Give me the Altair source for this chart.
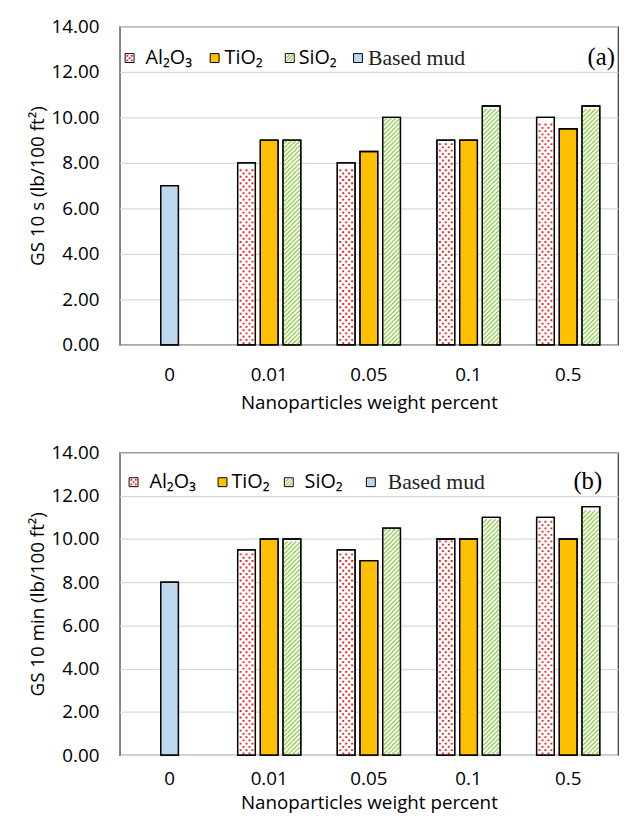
import altair as alt
import pandas as pd

# ---------------- data ----------------
categories = ["0", "0.01", "0.05", "0.1", "0.5"]
series_names = ["Al2O3", "TiO2", "SiO2"]
legend_labels = ["Al₂O₃", "TiO₂", "SiO₂", "Based mud"]
y_ticks = [0, 2, 4, 6, 8, 10, 12, 14]

# panel (a) GS 10 s
a_al2o3 = [8, 8, 9, 10]
a_tio2 = [9, 8.5, 9, 9.5]
a_sio2 = [9, 10, 10.5, 10.5]
a_base = 7

# panel (b) GS 10 min
b_al2o3 = [9.5, 9.5, 10, 11]
b_tio2 = [10, 9, 10, 10]
b_sio2 = [10, 10.5, 11, 11.5]
b_base = 8

# ---------------- styles ----------------
SANS = "'Open Sans', 'Noto Sans', sans-serif"
SERIF = "'Liberation Serif', serif"
COL_TI = "#FFC000"
COL_BASE = "#BDD7EE"
COL_DOT = "#FF1A1A"
COL_STRIPE = "#92D050"
PLOT_W = 504

DOT_TILE_PX = 6.6
STRIPE_TILE_PX = 4.5


def sq(cx, cy, h):
    return f"M{cx-h:.3f},{cy-h:.3f}h{2*h:.3f}v{2*h:.3f}h{-2*h:.3f}Z"


# tile of dots for an 18px wide bar (1 unit = 9 px, size = 324)
U = 9.0
_r = DOT_TILE_PX / 4
DOT_PATH = "".join(
    [sq(x / U, -_r / U, 0.95 / U) for x in (-6, 0, 6)]
    + [sq(x / U, _r / U, 0.95 / U) for x in (-3, 3)]
)
_h = STRIPE_TILE_PX / 2
STRIPE_PATH = "".join(
    f"M{x0/U:.3f},{_h/U:.3f}L{(x0+STRIPE_TILE_PX)/U:.3f},{-_h/U:.3f}"
    for x0 in (-9, -4.5, 0, 4.5)
)
# legend symbol patterns (9px symbol, 1 unit = 4.5 px, size = 81)
LEG_DOT_PATH = "".join(sq(x, y, 0.2) for x, y in [(-0.5, -0.5), (0.5, -0.5), (0, 0), (-0.5, 0.5), (0.5, 0.5)])
LEG_STRIPE_PATH = "M-0.8,0.8L0.8,-0.8M-0.8,0L0,-0.8M0,0.8L0.8,0"


def make_panel(al, ti, si, base_val, ytitle, tag, height, leg, xpad):
    sx, tx, ly, tagx = leg
    x_label_pad, x_title_pad = xpad
    rows = []
    for c, a, t, s in zip(categories[1:], al, ti, si):
        rows.append(dict(cat=c, series="Al2O3", slot="Al2O3", val=a))
        rows.append(dict(cat=c, series="TiO2", slot="TiO2", val=t))
        rows.append(dict(cat=c, series="SiO2", slot="SiO2", val=s))
    rows.append(dict(cat=categories[0], series="Based mud", slot="TiO2", val=base_val))
    df = pd.DataFrame(rows)

    ppu = height / 14.0
    dot_rows, stripe_rows = [], []
    for r in rows:
        if r["series"] == "Al2O3":
            step = DOT_TILE_PX / ppu
            n = int(r["val"] / step)
            for k in range(n):
                dot_rows.append(dict(cat=r["cat"], slot=r["slot"], val=(k + 0.5) * step))
        elif r["series"] == "SiO2":
            step = STRIPE_TILE_PX / ppu
            n = int(r["val"] / step)
            for k in range(n):
                stripe_rows.append(dict(cat=r["cat"], slot=r["slot"], val=(k + 0.5) * step))
    dots_df = pd.DataFrame(dot_rows)
    stripes_df = pd.DataFrame(stripe_rows)

    x_enc = alt.X(
        "cat:N",
        sort=categories,
        scale=alt.Scale(domain=categories, paddingInner=0.366, paddingOuter=0.183),
        axis=alt.Axis(
            title="Nanoparticles weight percent",
            labelAngle=0,
            ticks=False,
            tickSize=0,
            domain=False,
            labelPadding=x_label_pad,
            titlePadding=x_title_pad,
        ),
    )
    xo_enc = alt.XOffset(
        "slot:N",
        scale=alt.Scale(domain=series_names, paddingInner=0.217, paddingOuter=0),
    )
    y_enc = alt.Y(
        "val:Q",
        scale=alt.Scale(domain=[0, 14], nice=False),
        axis=alt.Axis(
            values=y_ticks,
            format=".2f",
            title=ytitle,
            grid=True,
            gridColor="#D9D9D9",
            gridWidth=1.2,
            ticks=False,
            tickSize=0,
            domain=False,
            labelPadding=21,
            titlePadding=4,
        ),
    )

    bars = alt.Chart(df).mark_bar(stroke="black", strokeWidth=1.3).encode(
        x=x_enc,
        xOffset=xo_enc,
        y=y_enc,
        color=alt.Color(
            "series:N",
            scale=alt.Scale(
                domain=series_names + ["Based mud"],
                range=["white", COL_TI, "white", COL_BASE],
            ),
            legend=None,
        ),
    )
    dots = alt.Chart(dots_df).mark_point(
        shape=DOT_PATH, size=324, filled=True, fill=COL_DOT, strokeWidth=0, opacity=1
    ).encode(x=x_enc, xOffset=xo_enc, y=y_enc)
    stripes = alt.Chart(stripes_df).mark_point(
        shape=STRIPE_PATH, size=324, filled=False, stroke=COL_STRIPE, strokeWidth=1.4, opacity=1
    ).encode(x=x_enc, xOffset=xo_enc, y=y_enc)
    outline = alt.Chart(df).mark_bar(fillOpacity=0, stroke="black", strokeWidth=1.3).encode(
        x=x_enc, xOffset=xo_enc, y=y_enc
    )

    one = alt.Data(values=[{"k": 1}])
    layers = [bars, dots, stripes, outline]
    sym_fill = ["white", COL_TI, "white", COL_BASE]
    for i, lab in enumerate(legend_labels):
        layers.append(
            alt.Chart(one).mark_point(
                shape="square", size=81, filled=True, fill=sym_fill[i],
                stroke="black", strokeWidth=1, opacity=1,
            ).encode(x=alt.value(sx[i]), y=alt.value(ly))
        )
        if i == 0:
            layers.append(
                alt.Chart(one).mark_point(
                    shape=LEG_DOT_PATH, size=81, filled=True, fill=COL_DOT, strokeWidth=0, opacity=1
                ).encode(x=alt.value(sx[i]), y=alt.value(ly))
            )
        if i == 2:
            layers.append(
                alt.Chart(one).mark_point(
                    shape=LEG_STRIPE_PATH, size=81, filled=False, stroke=COL_STRIPE, strokeWidth=1.2, opacity=1
                ).encode(x=alt.value(sx[i]), y=alt.value(ly))
            )
        is_serif = lab == "Based mud"
        layers.append(
            alt.Chart(one).mark_text(
                align="left", baseline="middle",
                font=SERIF if is_serif else SANS,
                fontSize=22 if is_serif else 20,
                color="#222" if is_serif else "black",
            ).encode(x=alt.value(tx[i]), y=alt.value(ly), text=alt.value(lab))
        )
    layers.append(
        alt.Chart(one).mark_text(
            align="right", baseline="middle", font=SERIF, fontSize=25, color="black"
        ).encode(x=alt.value(tagx), y=alt.value(ly - 1), text=alt.value(tag))
    )
    return alt.layer(*layers).properties(width=PLOT_W, height=height)


leg_a = ([10, 96, 172, 241], [26, 106, 181, 251], 32, 501)
leg_b = ([14, 104, 171, 254], [30, 113, 187, 271], 30, 488)

top = make_panel(a_al2o3, a_tio2, a_sio2, a_base, "GS 10 s (lb/100 ft²)", "(a)", 322, leg_a, (21, 9))
bottom = make_panel(b_al2o3, b_tio2, b_sio2, b_base, "GS 10 min (lb/100 ft²)", "(b)", 306, leg_b, (15, 5))

chart = (
    alt.vconcat(top, bottom, spacing=30)
    .properties(padding={"left": 19, "top": 4, "right": 0, "bottom": 0})
    .configure_view(stroke="#333333", strokeWidth=1.2)
    .configure_axis(
        labelFont=SANS,
        titleFont=SANS,
        labelFontSize=19,
        titleFontSize=19,
        labelColor="black",
        titleColor="black",
        titleFontWeight="normal",
    )
)

chart.save("out.html", embed_options={"renderer": "svg", "actions": False})
